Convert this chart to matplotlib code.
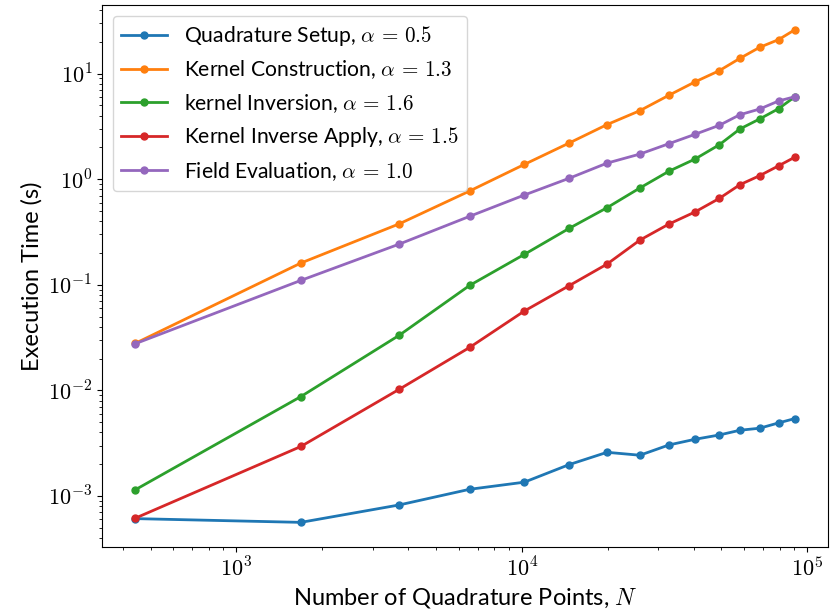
import numpy as np
import matplotlib
matplotlib.use('Agg')
import matplotlib.pyplot as plt
from matplotlib.ticker import FuncFormatter

plt.rcParams['mathtext.fontset'] = 'cm'
plt.rcParams['font.family'] = ['Lato', 'DejaVu Sans']
plt.rcParams['font.size'] = 14

# number of quadrature points
n_points = [441, 1681, 3721, 6561, 10201, 14641, 19881, 25921, 32761,
            40401, 49201, 58081, 68121, 79401, 90601]

# timings (s)
t_setup = [6.1e-4, 5.62e-4, 8.22e-4, 1.156e-3, 1.35e-3, 1.98e-3, 2.59e-3, 2.43e-3,
           3.04e-3, 3.44e-3, 3.78e-3, 4.19e-3, 4.38e-3, 4.92e-3, 5.41e-3]
t_construct = [0.0278, 0.1606, 0.378, 0.773, 1.38, 2.20, 3.29, 4.46,
               6.24, 8.34, 10.67, 13.95, 17.75, 21.0, 26.1]
t_inversion = [0.00114, 0.00873, 0.0333, 0.0986, 0.194, 0.342, 0.537, 0.826,
               1.19, 1.55, 2.12, 2.99, 3.72, 4.66, 6.05]
t_apply = [6.14e-4, 0.00294, 0.01025, 0.0255, 0.0564, 0.098, 0.157, 0.265,
           0.376, 0.489, 0.658, 0.887, 1.08, 1.34, 1.62]
t_field = [0.0276, 0.110, 0.243, 0.445, 0.708, 1.02, 1.42, 1.73,
           2.17, 2.66, 3.24, 4.08, 4.62, 5.51, 6.05]

labels = [r'Quadrature Setup, $\alpha\,=\,0.5$',
          r'Kernel Construction, $\alpha\,=\,1.3$',
          r'kernel Inversion, $\alpha\,=\,1.6$',
          r'Kernel Inverse Apply, $\alpha\,=\,1.5$',
          r'Field Evaluation, $\alpha\,=\,1.0$']

fig = plt.figure(figsize=(8.33, 6.13), dpi=100)
ax = fig.add_axes([102 / 833, 1 - 547 / 613, 726 / 833, 542 / 613])

for ys, lab in zip([t_setup, t_construct, t_inversion, t_apply, t_field], labels):
    ax.plot(n_points, ys, marker='o', markersize=5, linewidth=2, label=lab)

ax.set_xscale('log')
ax.set_yscale('log')

# cm-style powers of ten
pow_fmt = FuncFormatter(lambda v, pos: r'$10^{%d}$' % round(np.log10(v)))
ax.xaxis.set_major_formatter(pow_fmt)
ax.yaxis.set_major_formatter(pow_fmt)

ax.set_xlabel(r'Number of Quadrature Points, $N$', fontsize=17)
ax.set_ylabel('Execution Time (s)', fontsize=17)
ax.tick_params(labelsize=16)
ax.legend(loc='upper left', fontsize=15.2, handlelength=2.2, labelspacing=0.5)

fig.savefig('out.png', dpi=100)
